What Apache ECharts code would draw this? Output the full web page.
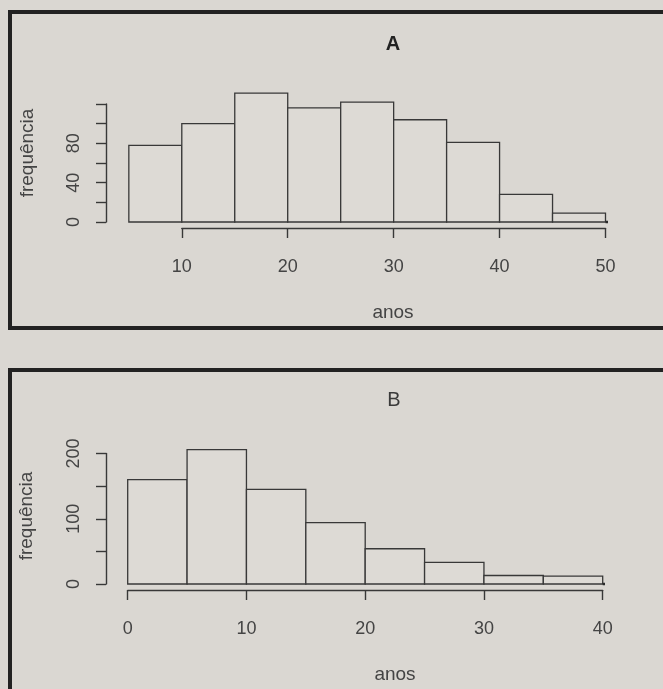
<!DOCTYPE html>
<html><head><meta charset="utf-8">
<script src="https://cdn.jsdelivr.net/npm/echarts@6/dist/echarts.min.js"></script>
<style>html,body{margin:0;padding:0;background:#dad7d2;} #c{width:663px;height:689px;}</style>
</head><body><div id="c"></div>
<script>
// ---- data ----
const binEdgesA = [5, 10, 15, 20, 25, 30, 35, 40, 45, 50];
const countsA   = [78, 100, 131, 116, 122, 104, 81, 28, 9];
const yLabelsA  = [0, 40, 80];
const tailA     = [50, 56];

const binEdgesB = [0, 5, 10, 15, 20, 25, 30, 35, 40];
const countsB   = [160, 206, 145, 94, 54, 33, 13, 12];
const yLabelsB  = [0, 100, 200];
const tailB     = [40, 46];

const panelTitles = ['A', 'B'];
const xTitle = 'anos';
const yTitle = 'frequência';

// ---- style ----
const FONT = 'Liberation Sans, Arial, sans-serif';
const INK = '#383838';
const PAPER = '#dad7d2';
const BARFILL = '#dddad5';

function binsToData(edges, counts) {
  return counts.map((c, i) => [edges[i], edges[i + 1], c]);
}

function renderBars(params, api) {
  const x0 = api.value(0), x1 = api.value(1), c = api.value(2);
  const p0 = api.coord([x0, c]);
  const p1 = api.coord([x1, 0]);
  return {
    type: 'rect',
    shape: { x: p0[0], y: p0[1], width: p1[0] - p0[0], height: p1[1] - p0[1] },
    style: { fill: BARFILL, stroke: INK, lineWidth: 1.3 }
  };
}

function xAxisCfg(gridIndex, min, max) {
  return {
    type: 'value', gridIndex, min, max, interval: 10, offset: 6,
    axisLine: { show: true, onZero: false, lineStyle: { color: INK, width: 1.4 } },
    axisTick: { show: true, length: 10, lineStyle: { color: INK, width: 1.4 } },
    axisLabel: { fontFamily: FONT, fontSize: 18, color: '#444', margin: 30 },
    splitLine: { show: false }
  };
}
function yAxisCfg(gridIndex, max, interval, labels, offset) {
  return {
    type: 'value', gridIndex, min: 0, max, interval, offset,
    axisLine: { show: true, onZero: false, lineStyle: { color: INK, width: 1.4 } },
    axisTick: { show: true, length: 10, lineStyle: { color: INK, width: 1.4 } },
    axisLabel: {
      fontFamily: FONT, fontSize: 18, color: '#444', rotate: 90, margin: 23,
      formatter: v => labels.includes(v) ? String(v) : ''
    },
    splitLine: { show: false }
  };
}

const chart = echarts.init(document.getElementById('c'));
chart.setOption({
  backgroundColor: PAPER,
  animation: false,
  grid: [
    { left: 181.8, top: 104, width: 423.7, height: 118, outerBoundsMode: 'none' },
    { left: 127.7, top: 453.5, width: 475, height: 130.5, outerBoundsMode: 'none' }
  ],
  xAxis: [xAxisCfg(0, 10, 50), xAxisCfg(1, 0, 40)],
  yAxis: [yAxisCfg(0, 120, 20, yLabelsA, 75.8), yAxisCfg(1, 200, 50, yLabelsB, 21.7)],
  series: [
    { type: 'custom', xAxisIndex: 0, yAxisIndex: 0, clip: false,
      encode: { x: [0, 1], y: 2 }, data: binsToData(binEdgesA, countsA), renderItem: renderBars },
    { type: 'custom', xAxisIndex: 1, yAxisIndex: 1, clip: false,
      encode: { x: [0, 1], y: 2 }, data: binsToData(binEdgesB, countsB), renderItem: renderBars },
    { type: 'line', xAxisIndex: 0, yAxisIndex: 0, clip: false, symbol: 'none',
      lineStyle: { color: '#2a2a2a', width: 2.6 }, data: tailA.map(x => [x, 0]) },
    { type: 'line', xAxisIndex: 1, yAxisIndex: 1, clip: false, symbol: 'none',
      lineStyle: { color: '#2a2a2a', width: 2.6 }, data: tailB.map(x => [x, 0]) }
  ],
  graphic: [
    // panel frames
    { type: 'rect', shape: { x: 10, y: 12, width: 720, height: 316 },
      style: { fill: 'none', stroke: '#222', lineWidth: 4 }, z: 100 },
    { type: 'rect', shape: { x: 10, y: 370, width: 720, height: 400 },
      style: { fill: 'none', stroke: '#222', lineWidth: 4 }, z: 100 },
    // titles
    { type: 'text', x: 393, y: 44, style: { text: panelTitles[0], align: 'center', verticalAlign: 'middle',
      font: 'bold 20px ' + FONT, fill: '#222' } },
    { type: 'text', x: 394, y: 400, style: { text: panelTitles[1], align: 'center', verticalAlign: 'middle',
      font: '20px ' + FONT, fill: '#3a3a3a' } },
    // axis titles
    { type: 'text', x: 393, y: 313, style: { text: xTitle, align: 'center', verticalAlign: 'middle',
      font: '19px ' + FONT, fill: '#444' } },
    { type: 'text', x: 395, y: 675, style: { text: xTitle, align: 'center', verticalAlign: 'middle',
      font: '19px ' + FONT, fill: '#444' } },
    { type: 'text', x: 28, y: 153, rotation: Math.PI / 2, style: { text: yTitle, align: 'center', verticalAlign: 'middle',
      font: '19px ' + FONT, fill: '#444' } },
    { type: 'text', x: 27, y: 516, rotation: Math.PI / 2, style: { text: yTitle, align: 'center', verticalAlign: 'middle',
      font: '19px ' + FONT, fill: '#444' } }
  ]
});
</script>
</body></html>
